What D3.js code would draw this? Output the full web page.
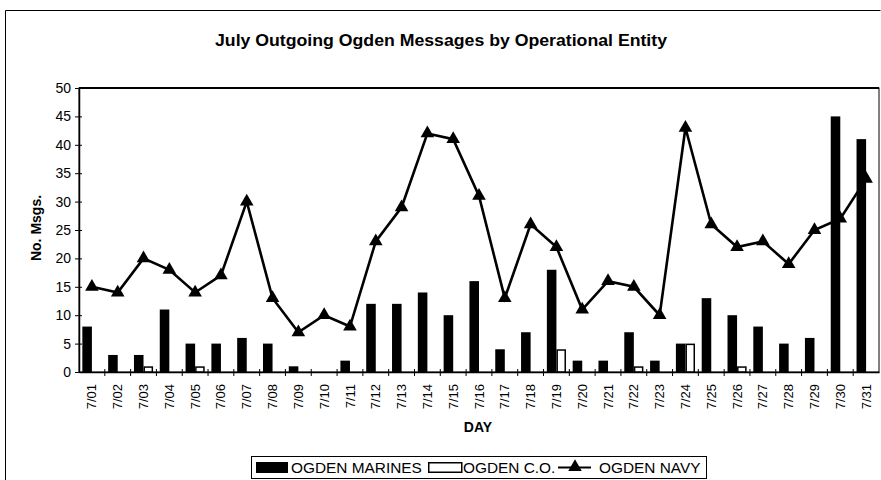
<!DOCTYPE html>
<html><head><meta charset="utf-8">
<script src="https://cdn.jsdelivr.net/npm/d3@7"></script>
<style>body{margin:0;background:#fff;}svg{display:block;font-family:"Liberation Sans",Arial,sans-serif;}</style>
</head><body>
<svg id="c" width="881" height="480"></svg>
<script>
const days = ["7/01","7/02","7/03","7/04","7/05","7/06","7/07","7/08","7/09","7/10","7/11","7/12","7/13","7/14","7/15","7/16","7/17","7/18","7/19","7/20","7/21","7/22","7/23","7/24","7/25","7/26","7/27","7/28","7/29","7/30","7/31"];
const marines = [8,3,3,11,5,5,6,5,1,0,2,12,12,14,10,16,4,7,18,2,2,7,2,5,13,10,8,5,6,45,41];
const co = [0,0,1,0,1,0,0,0,0,0,0,0,0,0,0,0,0,0,4,0,0,1,0,5,0,1,0,0,0,0,0];
const navy = [15,14,20,18,14,17,30,13,7,10,8,23,29,42,41,31,13,26,22,11,16,15,10,43,26,22,23,19,25,27,34];
const yTicks = [0,5,10,15,20,25,30,35,40,45,50];

const svg = d3.select("#c");
const L = 79, R = 879, T = 88, B = 372;

// outer frame
svg.append("path").attr("d","M5.5,480 V10.5 H880.5").attr("fill","none").attr("stroke","#000").attr("stroke-width",1);

svg.append("text").attr("x",441).attr("y",46).attr("text-anchor","middle")
  .attr("font-size",16).attr("font-weight","bold").attr("textLength",452).attr("lengthAdjust","spacingAndGlyphs")
  .text("July Outgoing Ogden Messages by Operational Entity");

const x = d3.scaleBand().domain(days).range([L,R]).paddingInner(0).paddingOuter(0);
const xs = d3.scaleBand().domain(["m","c"]).range([0,x.bandwidth()]).paddingInner(0).paddingOuter(0.35);
const y = d3.scaleLinear().domain([0,50]).range([B,T]);

// plot border
svg.append("rect").attr("x",L).attr("y",T).attr("width",R-L).attr("height",B-T)
  .attr("fill","#fff").attr("stroke","#000").attr("stroke-width",1);
svg.append("line").attr("x1",L).attr("x2",R).attr("y1",T).attr("y2",T).attr("stroke","#000").attr("stroke-width",2);

// bars
const g = svg.append("g");
g.selectAll("rect.m").data(days).join("rect")
  .attr("x",(d)=>x(d)+xs("m")).attr("width",xs.bandwidth())
  .attr("y",(d,i)=>y(marines[i])).attr("height",(d,i)=>y(0)-y(marines[i]))
  .attr("fill","#000");
g.selectAll("rect.c").data(days.filter((d,i)=>co[i]>0)).join("rect")
  .attr("x",(d)=>x(d)+xs("c")+0.75).attr("width",xs.bandwidth()-1.5)
  .attr("y",(d)=>y(co[days.indexOf(d)])+0.75).attr("height",(d)=>y(0)-y(co[days.indexOf(d)])-0.75)
  .attr("fill","#fff").attr("stroke","#000").attr("stroke-width",1.5);

// axes
const yAxis = d3.axisLeft(y).tickValues(yTicks).tickSize(4).tickSizeOuter(0);
const ya = svg.append("g").attr("transform",`translate(${L},0)`).call(yAxis);
ya.select(".domain").attr("stroke-width",1.5);
ya.selectAll(".tick line").attr("x2",-4).attr("x1",3);
ya.selectAll("text").attr("font-size",14).attr("x",-8).attr("font-family","Liberation Sans, Arial, sans-serif");

const xAxis = d3.axisBottom(x).tickSize(0).tickSizeOuter(0);
const xa = svg.append("g").attr("transform",`translate(0,${B})`).call(xAxis);
xa.select(".domain").attr("stroke-width",1.5);
xa.selectAll("text").attr("font-size",13).attr("font-family","Liberation Sans, Arial, sans-serif")
  .attr("transform","rotate(-90)").attr("text-anchor","end").attr("x",-12).attr("y",0).attr("dy","0.35em");
// boundary ticks
svg.append("g").selectAll("line").data(days.slice(1)).join("line")
  .attr("x1",d=>x(d)).attr("x2",d=>x(d)).attr("y1",B-3).attr("y2",B+4).attr("stroke","#000");

// navy line
const line = d3.line().x((d,i)=>x(days[i])+x.bandwidth()/2).y(d=>y(d));
svg.append("path").datum(navy).attr("d",line).attr("fill","none").attr("stroke","#000").attr("stroke-width",2.6);
const tri = d3.symbol().type(d3.symbolTriangle).size(80);
svg.append("g").selectAll("path").data(navy).join("path")
  .attr("d",tri).attr("transform",(d,i)=>`translate(${x(days[i])+x.bandwidth()/2},${y(d)})`).attr("fill","#000");

// axis titles
svg.append("text").attr("transform","translate(41,228) rotate(-90)").attr("text-anchor","middle")
  .attr("font-size",14).attr("font-weight","bold").text("No. Msgs.");
svg.append("text").attr("x",478).attr("y",432).attr("text-anchor","middle")
  .attr("font-size",14).attr("font-weight","bold").text("DAY");

// legend
const lg = svg.append("g");
lg.append("rect").attr("x",251.5).attr("y",456.5).attr("width",455).attr("height",22).attr("fill","#fff").attr("stroke","#000");
lg.append("rect").attr("x",256).attr("y",462).attr("width",32).attr("height",11).attr("fill","#000");
lg.append("text").attr("x",291).attr("y",473).attr("font-size",15.4).text("OGDEN MARINES");
lg.append("rect").attr("x",428.75).attr("y",462.75).attr("width",33).attr("height",9.5).attr("fill","#fff").attr("stroke","#000").attr("stroke-width",1.5);
lg.append("text").attr("x",463).attr("y",473).attr("font-size",15.4).text("OGDEN C.O.");
lg.append("line").attr("x1",558).attr("x2",591).attr("y1",467.5).attr("y2",467.5).attr("stroke","#000").attr("stroke-width",2.2);
lg.append("path").attr("d",tri).attr("transform","translate(575,467)").attr("fill","#000");
lg.append("text").attr("x",599).attr("y",473).attr("font-size",15.4).text("OGDEN NAVY");
</script>
</body></html>
